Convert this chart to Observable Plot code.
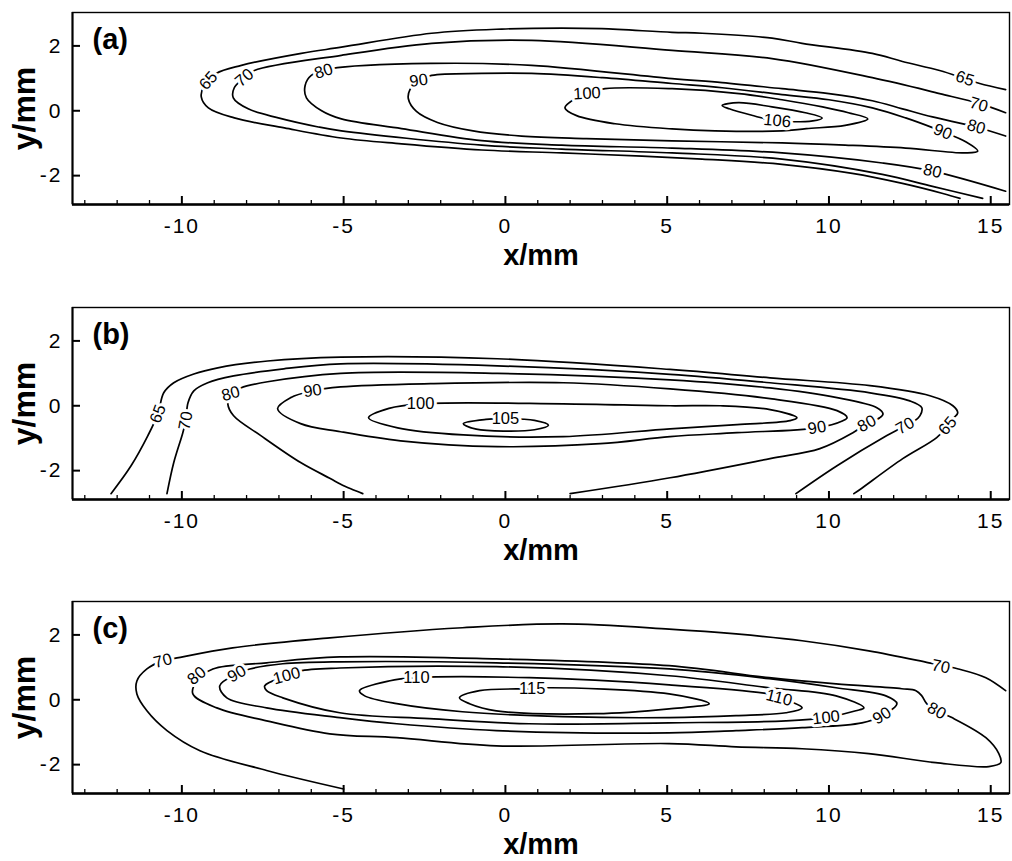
<!DOCTYPE html>
<html>
<head>
<meta charset="utf-8">
<script src="https://cdn.jsdelivr.net/npm/d3@7"></script>
<script src="https://cdn.jsdelivr.net/npm/@observablehq/plot@0.6"></script>
<style>
  html, body { margin: 0; padding: 0; background: #fff; overflow: hidden; }
  svg { display: block; }
  g[aria-label="x-axis tick label"] text, g[aria-label="y-axis tick label"] text { letter-spacing: 2px; }
</style>
</head>
<body>
<div id="chart"></div>
<script>
// ---------- axis ticks ----------
const xMajor = [-10, -5, 0, 5, 10, 15];
const xMinor = [-13, -12, -11, -9, -8, -7, -6, -4, -3, -2, -1, 1, 2, 3, 4, 6, 7, 8, 9, 11, 12, 13, 14];
const yMajor = [-2, 0, 2];

// ---------- panel (a) contours: [x mm, y mm] ----------
const a65 = [[15.46,0.65],[14.66,0.84],[14.2,0.99],[13.42,1.24],[12.27,1.52],[11.34,1.77],[9.17,2.08],[8.24,2.24],[6.08,2.39],[5.15,2.42],[2.98,2.53],[1.74,2.55],[-0.11,2.52],[-2.28,2.39],[-5.07,1.96],[-6.31,1.77],[-8.16,1.40],[-8.94,1.15],[-9.31,0.78],[-9.40,0.43],[-9.18,0.09],[-8.38,-0.22],[-6.83,-0.53],[-5.07,-0.84],[-3.21,-1.02],[-0.73,-1.21],[1.74,-1.30],[4.22,-1.40],[6.08,-1.49],[8.55,-1.65],[10.72,-1.93],[12.27,-2.24],[13.52,-2.55],[14.05,-2.70]];
const a70 = [[15.46,-0.06],[14.66,0.22],[13.42,0.53],[11.34,1.02],[8.24,1.61],[5.15,1.86],[0.81,2.17],[-2.28,2.08],[-5.07,1.71],[-7.76,1.24],[-8.07,1.02],[-8.38,0.71],[-8.41,0.40],[-7.95,0.06],[-7.02,-0.22],[-5.78,-0.50],[-5.07,-0.62],[-0.73,-1.06],[1.74,-1.18],[5.15,-1.30],[8.55,-1.49],[11.65,-1.96],[13.2,-2.33],[14.75,-2.70]];
const a80 = [[15.46,-0.78],[14.55,-0.50],[13.2,-0.19],[12.27,0.06],[11.34,0.31],[10.0,0.53],[8.55,0.68],[6.7,0.87],[5.15,0.99],[0.81,1.40],[-2.28,1.46],[-5.38,1.30],[-6.0,1.09],[-6.19,0.78],[-6.15,0.40],[-5.68,0.0],[-5.07,-0.25],[-3.21,-0.55],[-0.73,-0.92],[1.74,-1.06],[5.15,-1.15],[8.55,-1.30],[11.65,-1.61],[13.2,-1.86],[15.46,-2.48]];
const a90 = [[14.6,-1.24],[14.24,-0.96],[13.52,-0.65],[13.2,-0.52],[12.37,-0.22],[11.34,0.09],[10.0,0.34],[8.55,0.50],[6.7,0.71],[5.15,0.84],[3.0,1.02],[0.81,1.15],[-0.73,1.15],[-2.28,1.09],[-2.68,0.93],[-2.95,0.65],[-3.0,0.37],[-2.75,-0.02],[-2.1,-0.36],[-1.0,-0.62],[0.5,-0.78],[2.5,-0.86],[5.15,-0.93],[8.55,-0.99],[10.5,-1.06],[12.37,-1.15],[14.24,-1.30]];
const a100 = [[1.84,0.09],[2.2,0.40],[2.52,0.53],[3.08,0.68],[5.15,0.68],[7.22,0.53],[8.55,0.34],[9.8,0.12],[10.6,-0.06],[11.2,-0.25],[10.5,-0.45],[9.3,-0.55],[8.55,-0.62],[6.48,-0.62],[5.15,-0.56],[3.39,-0.40],[2.2,-0.15]];
const a106 = [[6.7,0.16],[7.2,0.25],[8.24,0.12],[9.27,-0.06],[9.79,-0.22],[9.5,-0.31],[8.33,-0.31],[7.7,-0.16],[6.92,0.06]];
const aLabels = [[-9.18,0.93,"65",-48],[-8.07,1.02,"70",-40],[-5.62,1.22,"80",-18],[-2.68,0.93,"90",-8],[2.52,0.53,"100",-3],[8.4,-0.31,"106",6],[14.2,0.99,"65",18],[14.63,0.19,"70",16],[14.55,-0.50,"80",16],[13.52,-0.65,"90",22],[13.2,-1.86,"80",13]];

// ---------- panel (b) contours ----------
const b65 = [[-12.19,-2.71],[-11.57,-1.85],[-11.05,-0.92],[-10.74,-0.25],[-10.56,0.40],[-10.25,0.71],[-9.63,0.98],[-8.89,1.17],[-7.35,1.38],[-5.09,1.50],[-0.25,1.45],[5.09,1.12],[8.18,0.86],[11.27,0.62],[13.12,0.31],[13.83,0.0],[13.98,-0.22],[13.83,-0.40],[13.67,-0.62],[13.33,-0.98],[12.28,-1.63],[10.96,-2.58],[10.77,-2.71]];
const b70 = [[-10.46,-2.71],[-10.25,-1.75],[-9.97,-0.83],[-9.88,-0.46],[-9.81,0.09],[-9.63,0.46],[-9.2,0.71],[-8.4,0.92],[-6.85,1.14],[-5.09,1.29],[-0.25,1.23],[5.09,0.97],[8.18,0.71],[11.27,0.40],[12.5,0.15],[12.87,-0.06],[12.81,-0.31],[12.65,-0.46],[12.35,-0.62],[11.79,-0.92],[10.25,-1.85],[8.98,-2.71]];
const b80 = [[-4.41,-2.71],[-4.78,-2.56],[-5.09,-2.42],[-5.4,-2.25],[-6.33,-1.75],[-7.56,-0.92],[-8.4,-0.31],[-8.58,0.06],[-8.49,0.37],[-8.18,0.55],[-7.35,0.74],[-5.09,1.0],[-0.25,1.0],[5.09,0.80],[8.18,0.55],[10.25,0.25],[11.48,-0.06],[11.67,-0.25],[11.57,-0.37],[11.17,-0.55],[10.74,-0.83],[9.72,-1.32],[8.18,-1.63],[5.09,-2.22],[2.0,-2.71]];
const b90 = [[-7.04,-0.09],[-6.64,0.25],[-5.96,0.46],[-5.09,0.58],[-2.31,0.68],[1.79,0.71],[5.09,0.52],[8.18,0.22],[10.25,-0.15],[10.56,-0.37],[10.43,-0.46],[9.63,-0.68],[7.16,-0.83],[5.09,-0.95],[2.93,-1.17],[-0.25,-1.26],[-3.24,-1.08],[-5.09,-0.80],[-6.33,-0.55]];
const b100 = [[-4.23,-0.37],[-3.6,-0.08],[-2.62,0.06],[1.79,0.06],[5.09,0.0],[6.64,0.0],[8.18,-0.12],[9.01,-0.37],[8.8,-0.46],[7.16,-0.58],[5.09,-0.71],[1.79,-0.95],[-1.3,-0.90],[-3.33,-0.68]];
const b105 = [[-1.3,-0.55],[-0.6,-0.42],[0,-0.40],[0.9,-0.45],[1.33,-0.60],[0.9,-0.74],[0,-0.78],[-0.9,-0.72]];
const bLabels = [[-10.74,-0.25,"65",-70],[-9.88,-0.46,"70",-80],[-8.49,0.37,"80",-15],[-5.96,0.46,"90",-8],[-2.62,0.06,"100",0],[0,-0.40,"105",0],[9.63,-0.68,"90",-10],[11.17,-0.55,"80",-29],[12.35,-0.62,"70",-30],[13.67,-0.62,"65",-50]];

// ---------- panel (c) contours ----------
const c70 = [[15.46,0.28],[14.85,0.68],[14.0,0.95],[13.09,1.14],[11.23,1.51],[9.17,1.82],[7.13,2.03],[5.06,2.18],[1.76,2.34],[-1.33,2.22],[-5.43,1.91],[-8.43,1.6],[-10.15,1.29],[-10.59,1.2],[-11.08,0.95],[-11.39,0.58],[-11.39,0.18],[-11.08,-0.34],[-10.46,-0.95],[-9.44,-1.57],[-7.38,-2.18],[-5.0,-2.75]];
const c80 = [[-9.54,0.58],[-9.04,0.95],[-7.38,1.14],[-5.12,1.32],[-0.28,1.26],[5.06,1.05],[8.15,0.68],[10.22,0.49],[12.25,0.34],[12.69,0.28],[12.87,0.12],[13.02,-0.12],[13.33,-0.34],[13.8,-0.55],[14.85,-1.17],[15.25,-1.66],[15.31,-1.94],[14.94,-2.06],[13.3,-1.94],[11.23,-1.66],[9.17,-1.51],[7.13,-1.45],[5.06,-1.35],[-0.28,-1.42],[-3.36,-1.17],[-5.43,-1.05],[-7.38,-0.65],[-8.92,-0.25],[-9.66,0.18]];
const c90 = [[-8.83,0.43],[-8.3,0.8],[-7.9,0.95],[-6.88,1.11],[-5.12,1.17],[-0.28,1.14],[5.06,0.95],[8.15,0.65],[10.22,0.37],[11.76,0.12],[12.1,-0.12],[11.64,-0.49],[11.02,-0.71],[9.17,-0.86],[7.13,-0.95],[5.06,-1.02],[-0.28,-0.95],[-3.36,-0.74],[-5.12,-0.55],[-7.38,-0.25],[-8.61,0.06]];
const c100 = [[-7.44,0.43],[-6.76,0.74],[-6.36,0.89],[-5.12,0.98],[-0.28,1.02],[5.06,0.74],[8.15,0.37],[10.22,0.12],[11.08,-0.25],[10.83,-0.34],[9.91,-0.55],[8.67,-0.65],[5.06,-0.71],[0.74,-0.74],[-2.35,-0.58],[-5.12,-0.40],[-6.88,0.06],[-7.38,0.28]];
const c110 = [[-4.51,0.28],[-3.6,0.58],[-2.75,0.68],[0.74,0.68],[5.06,0.46],[8.15,0.18],[8.46,0.08],[9.17,-0.25],[8.67,-0.40],[7.13,-0.49],[5.06,-0.55],[1.76,-0.52],[-1.33,-0.37],[-3.36,-0.12],[-4.35,0.12]];
const c115 = [[-1.42,0.06],[-0.8,0.28],[0.83,0.34],[1.27,0.37],[5.06,0.18],[6.3,-0.12],[5.06,-0.28],[2.81,-0.43],[-0.28,-0.34],[-1.11,-0.12]];
const cLabels = [[-10.59,1.2,"70",-15],[-9.54,0.74,"80",-40],[-8.3,0.8,"90",-30],[-6.76,0.74,"100",-15],[-2.75,0.68,"110",0],[0.83,0.34,"115",0],[8.46,0.06,"110",14],[9.91,-0.55,"100",-7],[11.64,-0.49,"90",-32],[13.33,-0.34,"80",29],[13.46,1.02,"70",12]];

// ---------- panels ----------
const panels = [
  {letter: "(a)", open: [a65, a70, a80], closed: [a90, a100, a106], labels: aLabels, height: 295, top: 12},
  {letter: "(b)", open: [b65, b70, b80], closed: [b90, b100, b105], labels: bLabels, height: 295, top: 12},
  {letter: "(c)", open: [c70], closed: [c80, c90, c100, c110, c115], labels: cLabels, height: 271, top: 11}
];

const XD = [-13.38, 15.58];
const YD = [-2.89, 3.03];
const FONT = "'Liberation Sans', Arial, Helvetica, sans-serif";

function drawPanel(p) {
  const frameH = 192;
  const xy = {x: d => d[0], y: d => d[1]};
  const tickX = (XD[1] - XD[0]) / (1009 - 72);
  const tickY = (YD[1] - YD[0]) / frameH;
  return Plot.plot({
    width: 1012,
    height: p.height,
    marginLeft: 72,
    marginRight: 3,
    marginTop: p.top,
    marginBottom: p.height - p.top - frameH,
    x: {domain: XD},
    y: {domain: YD},
    style: {fontFamily: FONT, background: "#fff", color: "#000"},
    marks: [
      Plot.axisX(xMajor, {tickSize: 0, tickPadding: 14, fontSize: 21, label: null, tickFormat: d => String(d)}),
      Plot.axisY(yMajor, {tickSize: 0, tickPadding: 10, fontSize: 21, label: null, tickFormat: d => String(d)}),
      ...p.open.map(c => Plot.line(c, {...xy, curve: "catmull-rom", stroke: "#000", strokeWidth: 1.7})),
      ...p.closed.map(c => Plot.line(c, {...xy, curve: "catmull-rom-closed", stroke: "#000", strokeWidth: 1.7})),
      Plot.text(p.labels, {x: d => d[0], y: d => d[1], text: d => d[2], rotate: d => d[3],
        fontSize: 16.5, fill: "#000", stroke: "#fff", strokeWidth: 6, paintOrder: "stroke"}),
      Plot.ruleX(xMinor, {x: d => d, y1: YD[0], y2: YD[0] + 4 * tickY, stroke: "#000", strokeWidth: 1.3}),
      Plot.ruleX(xMajor, {x: d => d, y1: YD[0], y2: YD[0] + 8 * tickY, stroke: "#000", strokeWidth: 2}),
      Plot.ruleY(yMajor, {y: d => d, x1: XD[0], x2: XD[0] + 8 * tickX, stroke: "#000", strokeWidth: 2}),
      Plot.frame({stroke: "#000", strokeWidth: 1.4}),
      Plot.ruleY([YD[0]], {stroke: "#000", strokeWidth: 2.6}),
      Plot.ruleX([XD[0]], {stroke: "#000", strokeWidth: 2}),
      Plot.text([p.letter], {frameAnchor: "top-left", dx: 20, dy: 27, textAnchor: "start", lineAnchor: "middle",
        fontSize: 29, fontWeight: "bold", fill: "#000"}),
      Plot.text(["x/mm"], {frameAnchor: "bottom", dy: 51, textAnchor: "middle", lineAnchor: "middle",
        fontSize: 29, fontWeight: "bold", fill: "#000"}),
      Plot.text(["y/mm"], {frameAnchor: "left", dx: -48, rotate: -90, textAnchor: "middle", lineAnchor: "middle",
        fontSize: 32, fontWeight: "bold", fill: "#000"})
    ]
  });
}

const root = document.getElementById("chart");
for (const p of panels) root.appendChild(drawPanel(p));
</script>
</body>
</html>
